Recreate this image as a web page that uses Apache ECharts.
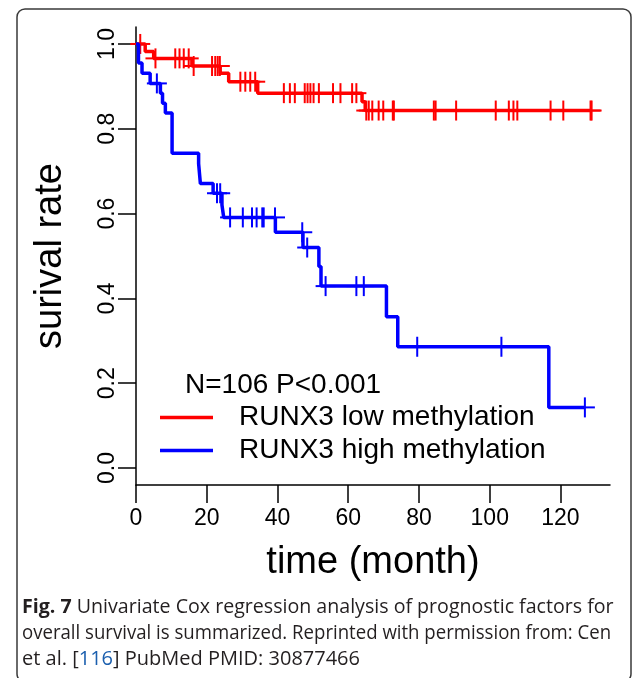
<!DOCTYPE html>
<html><head><meta charset="utf-8">
<script src="https://cdn.jsdelivr.net/npm/echarts@6/dist/echarts.min.js"></script>
<style>html,body{margin:0;padding:0;background:#fff}#c{width:634px;height:678px}</style>
</head><body><div id="c"></div>
<script>
// ---- data ----
const xTicks = [0, 20, 40, 60, 80, 100, 120];
const yTicks = [0, 0.2, 0.4, 0.6, 0.8, 1.0];
const seriesNames = ['RUNX3 low methylation', 'RUNX3 high methylation'];
const statText = 'N=106 P<0.001';

// RUNX3 low methylation: step times (months) and survival after each step
const lowTimes = [0, 2.6, 5.0, 15.8, 23.8, 26.2, 34.4, 63.9, 64.8, 128.8];
const lowSurv  = [1.0, 0.982, 0.966, 0.948, 0.931, 0.911, 0.884, 0.864, 0.843, 0.843];
const lowCensor = [1.2, 5.5, 11.1, 12.3, 13.5, 14.9, 16.3, 21.5, 22.4, 23.1, 23.7, 29.5, 30.9, 32.3, 33.7,
  41.8, 43.5, 44.9, 47.7, 48.5, 49.3, 50.2, 51.7, 55.7, 57.8, 61.1, 62.3, 65.1, 65.8, 66.8, 68.6, 69.9,
  72.6, 72.9, 84.2, 84.7, 90.5, 101.7, 105.4, 106.7, 107.8, 117.2, 120.8, 128.5, 128.8];

// RUNX3 high methylation
const highTimes = [0, 0.7, 1.7, 4.0, 6.9, 7.5, 8.3, 10.2, 17.7, 18.2, 21.8, 24.3, 24.8, 39.4, 47.2, 51.7, 52.3, 70.8, 74.0, 116.7, 127.0];
const highSurv  = [1.0, 0.955, 0.931, 0.907, 0.884, 0.860, 0.837, 0.742, 0.718, 0.671, 0.648, 0.620, 0.591, 0.556, 0.520, 0.475, 0.429, 0.357, 0.286, 0.143, 0.143];
const highCensor = [5.9, 22.9, 23.8, 26.6, 30.2, 32.8, 34.1, 35.7, 36.1, 39.3, 47.0, 48.4, 53.6, 62.3, 64.4, 79.5, 103.3, 126.9];

// caption lines
const captionLines = [
  '{b|Fig. 7} Univariate Cox regression analysis of prognostic factors for',
  'overall survival is summarized. Reprinted with permission from: Cen',
  'et al. [{l|116}] PubMed PMID: 30877466'
];

// ---- helpers ----
function stepData(times, surv) { return times.map((t, i) => [t, surv[i]]); }
function survAt(times, surv, t) {
  let v = surv[0];
  for (let i = 0; i < times.length; i++) if (times[i] < t) v = surv[i];
  return v;
}
function censorData(times, surv, cens) { return cens.map(t => [t, survAt(times, surv, t)]); }

const RED = '#ff0000', BLUE = '#0000ff';
const FONT = 'Liberation Sans, Arial, sans-serif';

function plusSeries(name, color, data) {
  return {
    type: 'custom', name: name, data: data, encode: { x: 0, y: 1 },
    renderItem: function (params, api) {
      const p = api.coord([api.value(0), api.value(1)]);
      const st = { stroke: color, lineWidth: 2 };
      return { type: 'group', children: [
        { type: 'line', shape: { x1: p[0] - 10, y1: p[1], x2: p[0] + 10, y2: p[1] }, style: st },
        { type: 'line', shape: { x1: p[0], y1: p[1] - 10, x2: p[0], y2: p[1] + 10 }, style: st }
      ]};
    },
    z: 3
  };
}

const chart = echarts.init(document.getElementById('c'), null, { renderer: 'canvas' });
const axisLineStyle = { color: '#000', width: 1.5 };
const capScale = [0.98, 0.93, 1.0];
const capY = [607, 633, 659];
const capStyle = { fontSize: 20, fill: '#231f20', fontFamily: 'Open Sans', align: 'left', verticalAlign: 'middle',
  rich: { b: { fontWeight: 'bold', fontSize: 20, fill: '#231f20', fontFamily: 'Open Sans' },
          l: { fontSize: 20, fill: '#1b5fae', fontFamily: 'Open Sans' } } };

chart.setOption({
  animation: false,
  backgroundColor: '#fff',
  textStyle: { fontFamily: FONT },
  grid: { left: 136, right: 24, top: 27, bottom: 193, containLabel: false, outerBoundsMode: 'none' },
  xAxis: {
    type: 'value', min: 0, max: 134,
    axisLine: { show: true, onZero: false, lineStyle: axisLineStyle },
    axisTick: { show: true, length: 18, customValues: xTicks, lineStyle: axisLineStyle },
    axisLabel: { customValues: xTicks, fontSize: 23, margin: 22, color: '#000', fontFamily: FONT },
    splitLine: { show: false },
    name: 'time (month)', nameLocation: 'middle', nameGap: 59,
    nameTextStyle: { fontSize: 38, color: '#000', fontFamily: FONT }
  },
  yAxis: {
    type: 'value', min: -0.04, max: 1.04,
    axisLine: { show: true, onZero: false, lineStyle: axisLineStyle },
    axisTick: { show: true, length: 18, customValues: yTicks, lineStyle: axisLineStyle },
    axisLabel: { customValues: yTicks, rotate: 90, fontSize: 23, margin: 17, color: '#000', fontFamily: FONT,
      formatter: v => Number(v).toFixed(1) },
    splitLine: { show: false },
    name: 'surival rate', nameLocation: 'middle', nameGap: 66,
    nameTextStyle: { fontSize: 38, color: '#000', fontFamily: FONT }
  },
  legend: {
    data: seriesNames, orient: 'vertical', left: 160, top: 401, padding: 0,
    icon: 'rect', itemWidth: 53, itemHeight: 3.5, itemGap: 0,
    textStyle: { fontSize: 28, lineHeight: 33, color: '#000', fontFamily: FONT, padding: [0, 0, 0, 21] }
  },
  series: [
    { type: 'line', name: seriesNames[0], step: 'end', data: stepData(lowTimes, lowSurv), showSymbol: false,
      lineStyle: { color: RED, width: 3.5 }, itemStyle: { color: RED }, z: 2 },
    plusSeries(seriesNames[0], RED, censorData(lowTimes, lowSurv, lowCensor)),
    { type: 'line', name: seriesNames[1], step: 'end', data: stepData(highTimes, highSurv), showSymbol: false,
      lineStyle: { color: BLUE, width: 3.5 }, itemStyle: { color: BLUE }, z: 4 },
    plusSeries(seriesNames[1], BLUE, censorData(highTimes, highSurv, highCensor))
  ],
  graphic: [
    { type: 'rect', shape: { x: 17, y: 9, width: 614, height: 673, r: 8 },
      style: { fill: 'none', stroke: '#3a3a3a', lineWidth: 1.5 }, z: 0, silent: true },
    { type: 'text', x: 185, y: 385, style: { text: statText, fontSize: 28, fill: '#000', fontFamily: FONT,
      align: 'left', verticalAlign: 'middle' } }
  ].concat(captionLines.map((t, i) => ({
    type: 'text', x: 22, y: capY[i], scaleX: capScale[i], style: Object.assign({ text: t }, capStyle)
  })))
});
</script>
</body></html>
